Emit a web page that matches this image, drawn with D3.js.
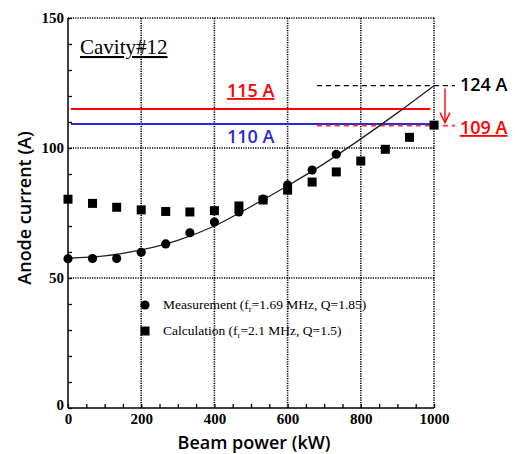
<!DOCTYPE html>
<html>
<head>
<meta charset="utf-8">
<script src="https://cdn.jsdelivr.net/npm/d3@7"></script>
<style>
  body { margin: 0; background: #fff; }
  svg { display: block; }
</style>
</head>
<body>
<div id="chart"></div>
<script>
// beam power (kW) for each measured / calculated point
const power = [0, 67, 133, 200, 267, 333, 400, 467, 533, 600, 667, 733, 800, 867, 933, 1000];
const measured = [57.4, 57.5, 57.5, 59.9, 63.1, 67.4, 71.5, 75.4, 80.3, 85.8, 91.5, 97.6];
const calculated = [80.3, 78.7, 77.2, 76.2, 75.6, 75.4, 75.9, 77.7, 80.0, 83.8, 86.9, 90.8, 95.0, 99.5, 104.1, 108.8];

// fitted trend line
const fitPower = [0, 100, 200, 300, 400, 500, 600, 700, 800, 900, 1000];
const fitCurrent = [57.6, 58.5, 60.8, 64.5, 70.0, 77.5, 85.5, 94.0, 103.5, 113.5, 124.0];

const xTicks = [0, 200, 400, 600, 800, 1000];
const yTicks = [0, 50, 100, 150];

// reference levels
const level115 = 115, level110 = 109.2, level124 = 124, level109 = 108.6;

const width = 515, height = 454;
const x = d3.scaleLinear().domain([0, 1000]).range([68, 434]);
const y = d3.scaleLinear().domain([0, 150]).range([408, 18]);

const svg = d3.select('#chart').append('svg')
    .attr('width', width)
    .attr('height', height);

const serif = '"Liberation Serif", "Times New Roman", serif';
const sans = '"Open Sans", "Liberation Sans", sans-serif';

// dotted grid
const grid = svg.append('g')
    .attr('stroke', '#000')
    .attr('stroke-width', 1.6)
    .attr('stroke-dasharray', '1.2,1.2');
grid.selectAll('.gx')
    .data(xTicks.slice(1))
  .enter().append('line')
    .attr('x1', d => x(d)).attr('x2', d => x(d))
    .attr('y1', y(0)).attr('y2', y(150));
grid.selectAll('.gy')
    .data(yTicks.slice(1))
  .enter().append('line')
    .attr('x1', x(0)).attr('x2', x(1000))
    .attr('y1', d => y(d)).attr('y2', d => y(d));

// axes with inward ticks
const xAxis = d3.axisBottom(x)
    .tickValues(d3.range(0, 1001, 50))
    .tickSize(-4)
    .tickFormat(d => xTicks.includes(d) ? d : '');
const gx = svg.append('g')
    .attr('transform', 'translate(0,' + y(0) + ')')
    .call(xAxis);
gx.select('.domain').attr('stroke-width', 1.5).attr('d', 'M' + x(0) + ',0H' + x(1000));
gx.selectAll('.tick line').attr('stroke-width', 1.3);
gx.selectAll('.tick text')
    .attr('dy', '0.95em')
    .attr('y', 2)
    .style('font', 'bold 15px ' + serif);

const yAxis = d3.axisLeft(y)
    .tickValues(d3.range(0, 151, 10))
    .tickSize(-4)
    .tickFormat(d => yTicks.includes(d) ? d : '');
const gy = svg.append('g')
    .attr('transform', 'translate(' + x(0) + ',0)')
    .call(yAxis);
gy.select('.domain').attr('stroke-width', 1.5).attr('d', 'M0,' + y(0) + 'V' + y(150));
gy.selectAll('.tick line').attr('stroke-width', 1.3);
gy.selectAll('.tick text')
    .attr('x', -4)
    .style('font', 'bold 15px ' + serif);
gy.selectAll('.tick').filter(d => d === 0).select('text').attr('dy', '0.1em');

// axis titles
svg.append('text')
    .attr('x', 254).attr('y', 449)
    .attr('text-anchor', 'middle')
    .style('font', '600 18px ' + sans)
    .text('Beam power (kW)');
svg.append('text')
    .attr('transform', 'translate(31,' + 208 + ') rotate(-90)')
    .attr('text-anchor', 'middle')
    .style('font', '600 18px ' + sans)
    .text('Anode current (A)');

// title
svg.append('text')
    .attr('x', 80).attr('y', 54)
    .style('font', '21px ' + serif)
    .style('text-decoration', 'underline')
    .text('Cavity#12');

// horizontal levels
svg.append('line')
    .attr('x1', x(8)).attr('x2', x(990))
    .attr('y1', y(level115)).attr('y2', y(level115))
    .attr('stroke', '#ff0000').attr('stroke-width', 2.2);
svg.append('line')
    .attr('x1', x(8)).attr('x2', x(995))
    .attr('y1', y(level110)).attr('y2', y(level110))
    .attr('stroke', '#2b2bcf').attr('stroke-width', 2);
svg.append('line')
    .attr('x1', x(680)).attr('x2', 455)
    .attr('y1', y(level109)).attr('y2', y(level109))
    .attr('stroke', '#ff3333').attr('stroke-width', 1.6)
    .attr('stroke-dasharray', '5,4');
svg.append('line')
    .attr('x1', x(680)).attr('x2', 455)
    .attr('y1', y(level124)).attr('y2', y(level124))
    .attr('stroke', '#000').attr('stroke-width', 1.3)
    .attr('stroke-dasharray', '5,4');

// arrow 124 -> 109
const ax = 445;
svg.append('line')
    .attr('x1', ax).attr('x2', ax)
    .attr('y1', y(level124) + 3).attr('y2', y(level109) - 3)
    .attr('stroke', '#ff0000').attr('stroke-width', 1.4);
svg.append('path')
    .attr('d', 'M' + (ax - 5) + ',' + (y(level109) - 13) + 'L' + ax + ',' + (y(level109) - 3) + 'L' + (ax + 5) + ',' + (y(level109) - 13))
    .attr('fill', 'none')
    .attr('stroke', '#ff0000').attr('stroke-width', 1.4);

// level labels
const lbl = (t, xx, yy, c, u) => svg.append('text')
    .attr('x', xx).attr('y', yy)
    .attr('fill', c)
    .style('font', '600 18px ' + sans)
    .style('text-decoration', u ? 'underline' : 'none')
    .text(t);
lbl('115 A', 227, 97, '#ff0000', true);
lbl('110 A', 227, 143, '#2b2bcf', false);
lbl('124 A', 460, 91, '#000', false);
lbl('109 A', 460, 134, '#ff0000', true);

// fitted line
const line = d3.line()
    .x(d => x(d[0]))
    .y(d => y(d[1]))
    .curve(d3.curveMonotoneX);
svg.append('path')
    .datum(fitPower.map((p, i) => [p, fitCurrent[i]]))
    .attr('d', line)
    .attr('fill', 'none')
    .attr('stroke', '#222')
    .attr('stroke-width', 1.3);

// markers
svg.selectAll('.calc')
    .data(calculated)
  .enter().append('rect')
    .attr('x', (d, i) => x(power[i]) - 4.5)
    .attr('y', d => y(d) - 4.5)
    .attr('width', 9).attr('height', 9)
    .attr('fill', '#000');
svg.selectAll('.meas')
    .data(measured)
  .enter().append('circle')
    .attr('cx', (d, i) => x(power[i]))
    .attr('cy', d => y(d))
    .attr('r', 4.6)
    .attr('fill', '#000');

// legend
const leg = svg.append('g').style('font', '13.5px ' + serif);
leg.append('circle').attr('cx', 145).attr('cy', 305).attr('r', 4.6);
leg.append('rect').attr('x', 140.5).attr('y', 326.5).attr('width', 9).attr('height', 9);
const t1 = leg.append('text').attr('x', 163).attr('y', 309);
t1.append('tspan').text('Measurement (f');
t1.append('tspan').attr('font-size', '8.5px').attr('dy', 3).text('r');
t1.append('tspan').attr('dy', -3).text('=1.69 MHz, Q=1.85)');
const t2 = leg.append('text').attr('x', 163).attr('y', 335);
t2.append('tspan').text('Calculation (f');
t2.append('tspan').attr('font-size', '8.5px').attr('dy', 3).text('r');
t2.append('tspan').attr('dy', -3).text('=2.1 MHz, Q=1.5)');
</script>
</body>
</html>
